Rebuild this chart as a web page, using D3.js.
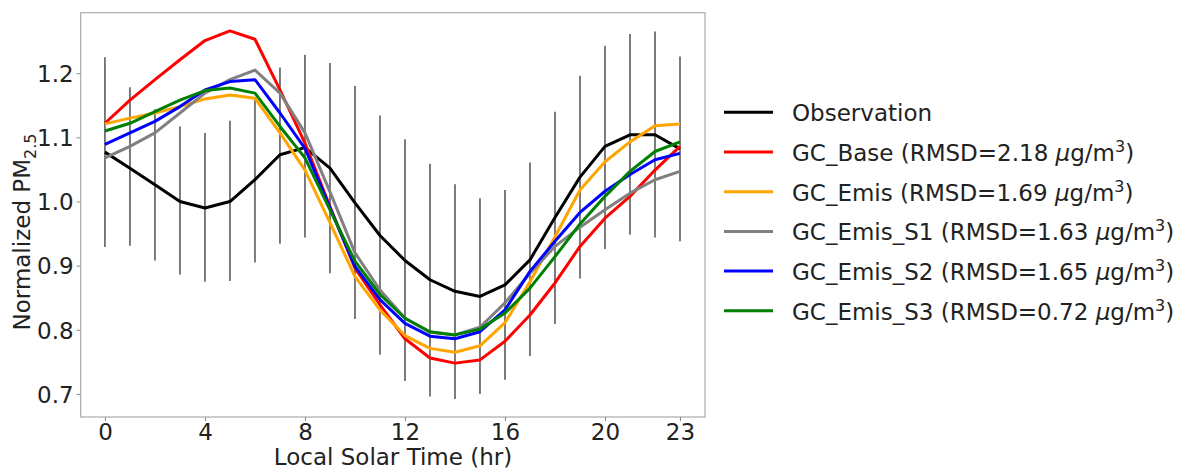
<!DOCTYPE html>
<html><head><meta charset="utf-8">
<script src="https://cdn.jsdelivr.net/npm/d3@7"></script>
<style>
body{margin:0;background:#fff;}
text{font-family:"DejaVu Sans",sans-serif;fill:#222;}
</style></head>
<body><svg id="c" width="1182" height="471"></svg>
<script>
const hours = d3.range(0,24);
const observation = [1.077,1.052,1.026,1.000,0.990,1.000,1.034,1.073,1.084,1.052,0.998,0.947,0.908,0.878,0.860,0.852,0.870,0.909,0.975,1.038,1.086,1.104,1.104,1.082];
const obsErrTop    = [1.225,1.178,1.144,1.117,1.107,1.126,1.163,1.209,1.229,1.216,1.180,1.134,1.097,1.059,1.027,1.005,1.018,1.061,1.140,1.196,1.243,1.261,1.265,1.226];
const obsErrBottom = [0.929,0.931,0.908,0.886,0.875,0.876,0.905,0.934,0.944,0.888,0.817,0.761,0.720,0.696,0.692,0.700,0.722,0.759,0.809,0.880,0.926,0.948,0.944,0.938];
const gcBase  = [1.122,1.158,1.190,1.221,1.251,1.266,1.253,1.174,1.091,0.992,0.896,0.839,0.786,0.756,0.748,0.753,0.782,0.823,0.873,0.930,0.974,1.008,1.049,1.086];
const gcEmis  = [1.121,1.130,1.138,1.148,1.160,1.166,1.161,1.107,1.049,0.967,0.883,0.831,0.791,0.771,0.765,0.775,0.811,0.875,0.945,1.018,1.062,1.093,1.118,1.121];
const gcEmisS1= [1.068,1.086,1.107,1.138,1.169,1.190,1.205,1.169,1.107,1.015,0.920,0.862,0.818,0.796,0.792,0.804,0.842,0.888,0.930,0.960,0.987,1.013,1.034,1.047];
const gcEmisS2= [1.089,1.107,1.125,1.148,1.174,1.187,1.190,1.138,1.083,0.990,0.899,0.847,0.810,0.790,0.786,0.797,0.831,0.891,0.938,0.983,1.016,1.042,1.065,1.075];
const gcEmisS3= [1.110,1.122,1.140,1.158,1.173,1.177,1.169,1.117,1.068,0.987,0.907,0.855,0.818,0.797,0.792,0.801,0.826,0.865,0.914,0.965,1.008,1.047,1.078,1.093];
const xTicks = [0,4,8,12,16,20,23];
const yTicks = [0.7,0.8,0.9,1.0,1.1,1.2];
const seriesNames = ["Observation","GC_Base","GC_Emis","GC_Emis_S1","GC_Emis_S2","GC_Emis_S3"];
const rmsd = [null,"2.18","1.69","1.63","1.65","0.72"];
const colors = ["#000000","#ff0000","#ffa500","#808080","#0000ff","#008000"];
const seriesData = [observation,gcBase,gcEmis,gcEmisS1,gcEmisS2,gcEmisS3];

const svg = d3.select("#c");
const L=80.7,R=705,T=12.7,B=417;
const x = d3.scaleLinear().domain([-0.97,24.0]).range([L,R]);
const y = d3.scaleLinear().domain([0.664,1.2944]).range([B,T]);

// error bars
svg.append("g").selectAll("line").data(hours).join("line")
  .attr("x1",d=>x(d)).attr("x2",d=>x(d))
  .attr("y1",d=>y(obsErrTop[d])).attr("y2",d=>y(obsErrBottom[d]))
  .attr("stroke","#444").attr("stroke-width",1.4);

const line = d3.line().x((v,i)=>x(hours[i])).y(v=>y(v));
seriesData.forEach((s,k)=>{
  svg.append("path").datum(s).attr("d",line)
    .attr("fill","none").attr("stroke",colors[k]).attr("stroke-width",3)
    .attr("stroke-linejoin","round");
});

// frame
svg.append("rect").attr("x",L).attr("y",T).attr("width",R-L).attr("height",B-T)
  .attr("fill","none").attr("stroke","#aaa").attr("stroke-width",1.2);

// axes
const xAxis = svg.append("g").attr("transform",`translate(0,${B})`)
  .call(d3.axisBottom(x).tickValues(xTicks).tickFormat(d3.format("d")).tickSize(4).tickSizeOuter(0));
const yAxis = svg.append("g").attr("transform",`translate(${L},0)`)
  .call(d3.axisLeft(y).tickValues(yTicks).tickFormat(d3.format(".1f")).tickSize(4).tickSizeOuter(0));
[xAxis,yAxis].forEach(a=>{
  a.select(".domain").remove();
  a.selectAll(".tick line").attr("stroke","#888");
  a.selectAll(".tick text").style("font-family","DejaVu Sans").style("font-size","23px").attr("fill","#222");
});
xAxis.selectAll(".tick text").attr("dy",null).attr("y",23);
yAxis.selectAll(".tick text").attr("x",-7).attr("dy","0.36em");

// axis labels
svg.append("text").attr("x",393).attr("y",465).attr("text-anchor","middle")
  .style("font-size","23px").text("Local Solar Time (hr)");
const yl = svg.append("text").attr("transform","translate(30,232) rotate(-90)").attr("text-anchor","middle")
  .style("font-size","23px");
yl.append("tspan").text("Normalized PM");
yl.append("tspan").attr("dy",6).style("font-size","16px").text("2.5");

// legend
const lg = svg.append("g");
seriesNames.forEach((n,i)=>{
  const yy = 112.3 + i*39.7;
  lg.append("line").attr("x1",724).attr("x2",773).attr("y1",yy).attr("y2",yy)
    .attr("stroke",colors[i]).attr("stroke-width",3);
  const t = lg.append("text").attr("x",792).attr("y",yy+9).style("font-size","23px");
  if(rmsd[i]===null){ t.text(n); }
  else{
    t.append("tspan").text(`${n} (RMSD=${rmsd[i]} `);
    t.append("tspan").style("font-style","italic").text("μ");
    t.append("tspan").text("g/m");
    t.append("tspan").attr("dy",-9).style("font-size","16px").text("3");
    t.append("tspan").attr("dy",9).text(")");
  }
});
</script></body></html>
